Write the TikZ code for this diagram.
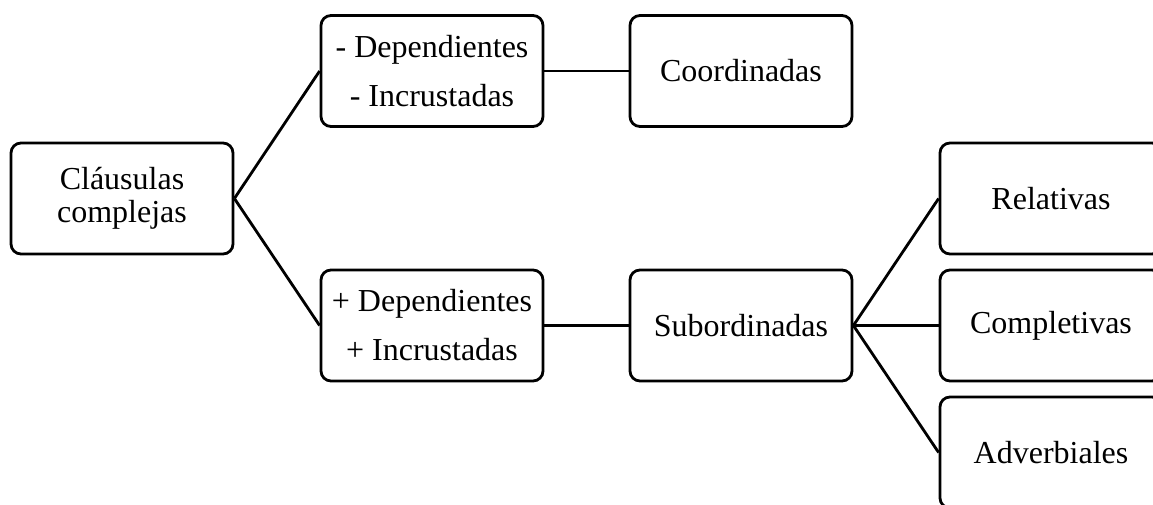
\documentclass[tikz,border=0pt]{standalone}
\usepackage{fontspec}
\setmainfont{Liberation Serif}
\begin{document}
\begin{tikzpicture}[x=1pt,y=-1pt,
  box/.style={draw, line width=2.8pt, rounded corners=10pt, minimum width=222pt, minimum height=111pt, align=center, inner sep=0pt, font=\fontsize{32}{33}\selectfont},
  wide/.style={font=\fontsize{32}{49}\selectfont},
  link/.style={line width=2.8pt}]
\useasboundingbox (0,0) rectangle (1153,504);
\node[box] (cl) at (122,198.5) {Cláusulas\\complejas};
\node[box, wide] (md) at (432,71) {- Dependientes\\- Incrustadas};
\node[box] (co) at (741,71) {Coordinadas};
\node[box, wide] (pd) at (432,325.5) {+ Dependientes\\+ Incrustadas};
\node[box] (su) at (741,325.5) {Subordinadas};
\node[box] (re) at (1051,198.5) {Relativas};
\node[box] (cm) at (1051,325.5) {Completivas};
\node[box] (ad) at (1051,452.5) {Adverbiales};
\draw[link] (cl.east) -- (md.west);
\draw[link] (cl.east) -- (pd.west);
\draw[link] (md.east) -- (co.west);
\draw[link] (pd.east) -- (su.west);
\draw[link] (su.east) -- (re.west);
\draw[link] (su.east) -- (cm.west);
\draw[link] (su.east) -- (ad.west);
\end{tikzpicture}
\end{document}
